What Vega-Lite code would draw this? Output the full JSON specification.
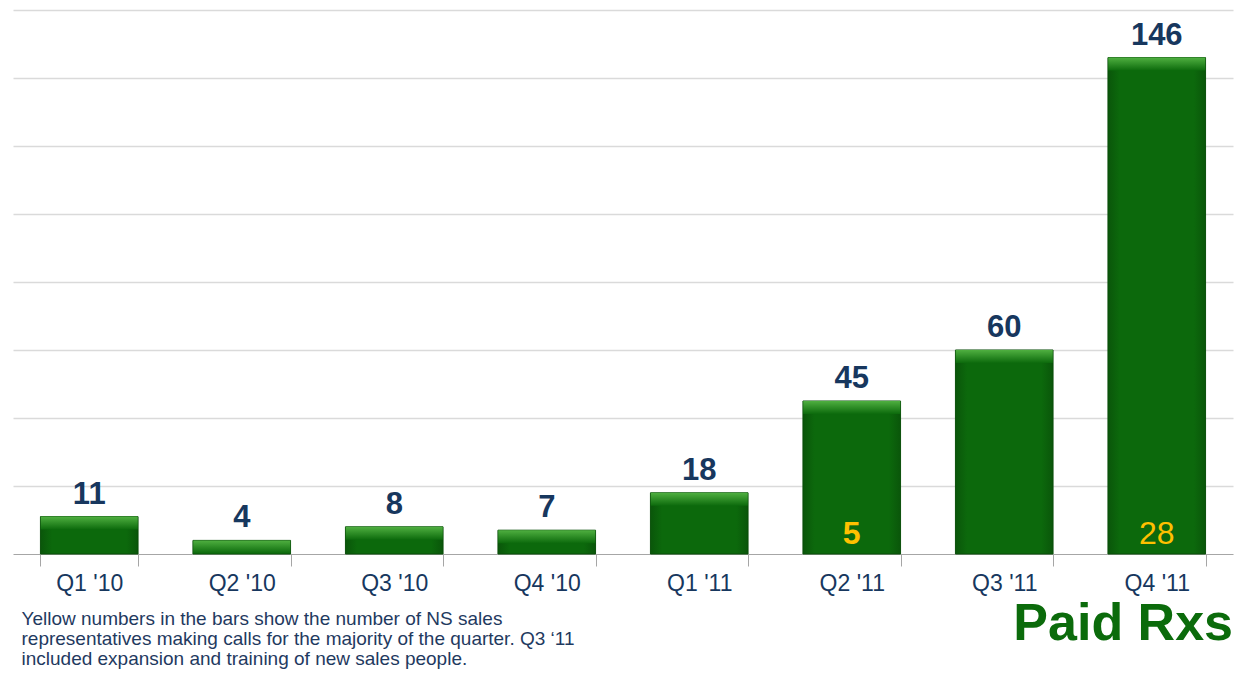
{
  "$schema": "https://vega.github.io/schema/vega-lite/v6.json",
  "width": 1220,
  "height": 544,
  "autosize": {"type": "none"},
  "padding": {"left": 13, "top": 10, "right": 3, "bottom": 119},
  "background": "white",
  "config": {"view": {"stroke": null}, "font": "Liberation Sans"},
  "title": {
    "text": "Paid Rxs",
    "orient": "bottom",
    "anchor": "end",
    "fontSize": 52,
    "fontWeight": "bold",
    "color": "#0B6B0B",
    "baseline": "alphabetic",
    "offset": -28
  },
  "data": {
    "values": [
      {"quarter": "Q1 '10", "paid": 11, "reps": null},
      {"quarter": "Q2 '10", "paid": 4, "reps": null},
      {"quarter": "Q3 '10", "paid": 8, "reps": null},
      {"quarter": "Q4 '10", "paid": 7, "reps": null},
      {"quarter": "Q1 '11", "paid": 18, "reps": null},
      {"quarter": "Q2 '11", "paid": 45, "reps": 5},
      {"quarter": "Q3 '11", "paid": 60, "reps": null},
      {"quarter": "Q4 '11", "paid": 146, "reps": 28}
    ]
  },
  "encoding": {
    "x": {
      "field": "quarter",
      "type": "nominal",
      "sort": null,
      "scale": {"paddingInner": 0.36, "paddingOuter": 0.18},
      "axis": {
        "title": [
          "Yellow numbers in the  bars show the number of NS sales",
          "representatives making calls for the majority of the quarter. Q3 ‘11",
          "included expansion and training of new sales people."
        ],
        "titleAnchor": "start",
        "titleAlign": "left",
        "titleX": 8,
        "titleFontSize": 19,
        "titleFontWeight": "normal",
        "titleColor": "#1F3A5F",
        "titleLineHeight": 20,
        "titlePadding": 14,
        "labelAngle": 0,
        "labelFontSize": 23,
        "labelColor": "#17375E",
        "labelPadding": 6,
        "tickBand": "extent",
        "tickSize": 12,
        "tickColor": "#A6A6A6",
        "domainColor": "#A6A6A6",
        "domainWidth": 1.2,
        "grid": false
      }
    }
  },
  "layer": [
    {
      "mark": {
        "type": "bar",
        "stroke": "#0A4F0A",
        "strokeWidth": 1,
        "color": {
          "gradient": "linear",
          "x1": 0, "x2": 1, "y1": 0, "y2": 0,
          "stops": [
            {"offset": 0, "color": "#0A560A"},
            {"offset": 0.12, "color": "#0C690C"},
            {"offset": 0.88, "color": "#0C690C"},
            {"offset": 1, "color": "#0A560A"}
          ]
        }
      },
      "encoding": {
        "y": {
          "field": "paid",
          "type": "quantitative",
          "scale": {"domain": [0, 160], "nice": false},
          "axis": {
            "title": null,
            "labels": false,
            "ticks": false,
            "domain": false,
            "grid": true,
            "gridColor": "#DADADA",
            "gridWidth": 1.5,
            "values": [20, 40, 60, 80, 100, 120, 140, 160]
          }
        }
      }
    },
    {
      "mark": {
        "type": "tick",
        "thickness": 13,
        "yOffset": 6.5,
        "size": 97,
        "opacity": 1,
        "color": {
          "gradient": "linear",
          "x1": 0, "x2": 0, "y1": 0, "y2": 1,
          "stops": [
            {"offset": 0, "color": "#4FAF40"},
            {"offset": 1, "color": "#0C6A0C"}
          ]
        }
      },
      "encoding": {"y": {"field": "paid", "type": "quantitative"}}
    },
    {
      "mark": {
        "type": "text",
        "fontSize": 31,
        "fontWeight": "bold",
        "color": "#17375E",
        "baseline": "alphabetic",
        "dy": -13
      },
      "encoding": {
        "y": {"field": "paid", "type": "quantitative"},
        "text": {"field": "paid", "type": "quantitative"}
      }
    },
    {
      "transform": [{"filter": "datum.quarter === \"Q2 '11\""}],
      "mark": {
        "type": "text",
        "fontSize": 32,
        "fontWeight": "bold",
        "color": "#FFC000",
        "baseline": "alphabetic",
        "dy": -10
      },
      "encoding": {
        "y": {"datum": 0, "type": "quantitative"},
        "text": {"field": "reps", "type": "quantitative"}
      }
    },
    {
      "transform": [{"filter": "datum.quarter === \"Q4 '11\""}],
      "mark": {
        "type": "text",
        "fontSize": 32,
        "fontWeight": "normal",
        "color": "#FFC000",
        "baseline": "alphabetic",
        "dy": -10
      },
      "encoding": {
        "y": {"datum": 0, "type": "quantitative"},
        "text": {"field": "reps", "type": "quantitative"}
      }
    }
  ]
}
